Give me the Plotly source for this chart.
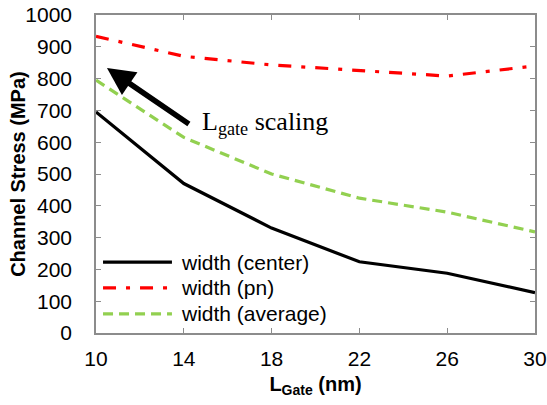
import plotly.graph_objects as go

lgate = [10, 14, 18, 22, 26, 30]
center = [695, 470, 330, 224, 188, 127]
pn = [933, 870, 843, 826, 808, 840]
average = [795, 615, 500, 424, 380, 318]
x_ticks = [10, 14, 18, 22, 26, 30]
y_ticks = list(range(0, 1001, 100))
series_names = ["width (center)", "width (pn)", "width (average)"]
series_colors = ["black", "#FF0000", "#92D050"]
series_dash = ["solid", "13px,10px,4px,10px", "10px,6px"]
series_values = [center, pn, average]

FONT = "Arial, Liberation Sans, sans-serif"

fig = go.Figure()
for name, vals, col, dash in zip(series_names, series_values, series_colors, series_dash):
    fig.add_trace(go.Scatter(x=lgate, y=vals, mode="lines", name=name, showlegend=False,
                             line=dict(color=col, width=3.2, dash=dash)))

axis_common = dict(showgrid=False, zeroline=False, showline=True, linecolor="#8c8c8c",
                   linewidth=1.5, mirror="ticks", ticks="inside", ticklen=5, automargin=False,
                   ticklabeloverflow="allow",
                   tickcolor="#8c8c8c", tickfont=dict(family=FONT, size=21, color="black"))

fig.update_xaxes(range=[10, 30], tickvals=x_ticks, ticklabelstandoff=6, **axis_common,
                 title=dict(text="<b>L<sub>Gate</sub> (nm)</b>", font=dict(family=FONT, size=20, color="black"), standoff=8))
fig.update_yaxes(range=[0, 1000], tickvals=y_ticks, ticklabelstandoff=18, **axis_common)

fig.add_annotation(xref="paper", yref="paper", x=-0.178, y=0.5, xanchor="center", yanchor="middle",
                   textangle=-90, showarrow=False, text="<b>Channel Stress (MPa)</b>",
                   font=dict(family=FONT, size=20, color="black"))

# manual legend (long line samples like the reference)
legend_y = [0.223, 0.142, 0.060]
for name, col, dash, ly in zip(series_names, series_colors, series_dash, legend_y):
    fig.add_shape(type="line", xref="paper", yref="paper", x0=0.016, x1=0.173, y0=ly, y1=ly,
                  line=dict(color=col, width=3.2, dash=dash))
    fig.add_annotation(xref="paper", yref="paper", x=0.19, y=ly, xanchor="left", yanchor="middle",
                       text=name, showarrow=False, font=dict(family=FONT, size=21, color="black"))

fig.add_annotation(x=10.5, y=833, ax=14.3, ay=654, xref="x", yref="y", axref="x", ayref="y",
                   text="", showarrow=True, arrowhead=2, arrowsize=1, arrowwidth=5.5, arrowcolor="black")
fig.add_annotation(x=14.75, y=660, xref="x", yref="y", xanchor="left", yanchor="middle",
                   text="L<sub>gate</sub> scaling", showarrow=False,
                   font=dict(family="Times New Roman, Liberation Serif, serif", size=26, color="black"))

fig.update_layout(width=547, height=405, margin=dict(l=96, r=12, t=15, b=72, autoexpand=False),
                  plot_bgcolor="white", paper_bgcolor="white", showlegend=False)
fig.write_html("out.html", config={"displayModeBar": False},
               post_script="document.body.style.margin='0';")
